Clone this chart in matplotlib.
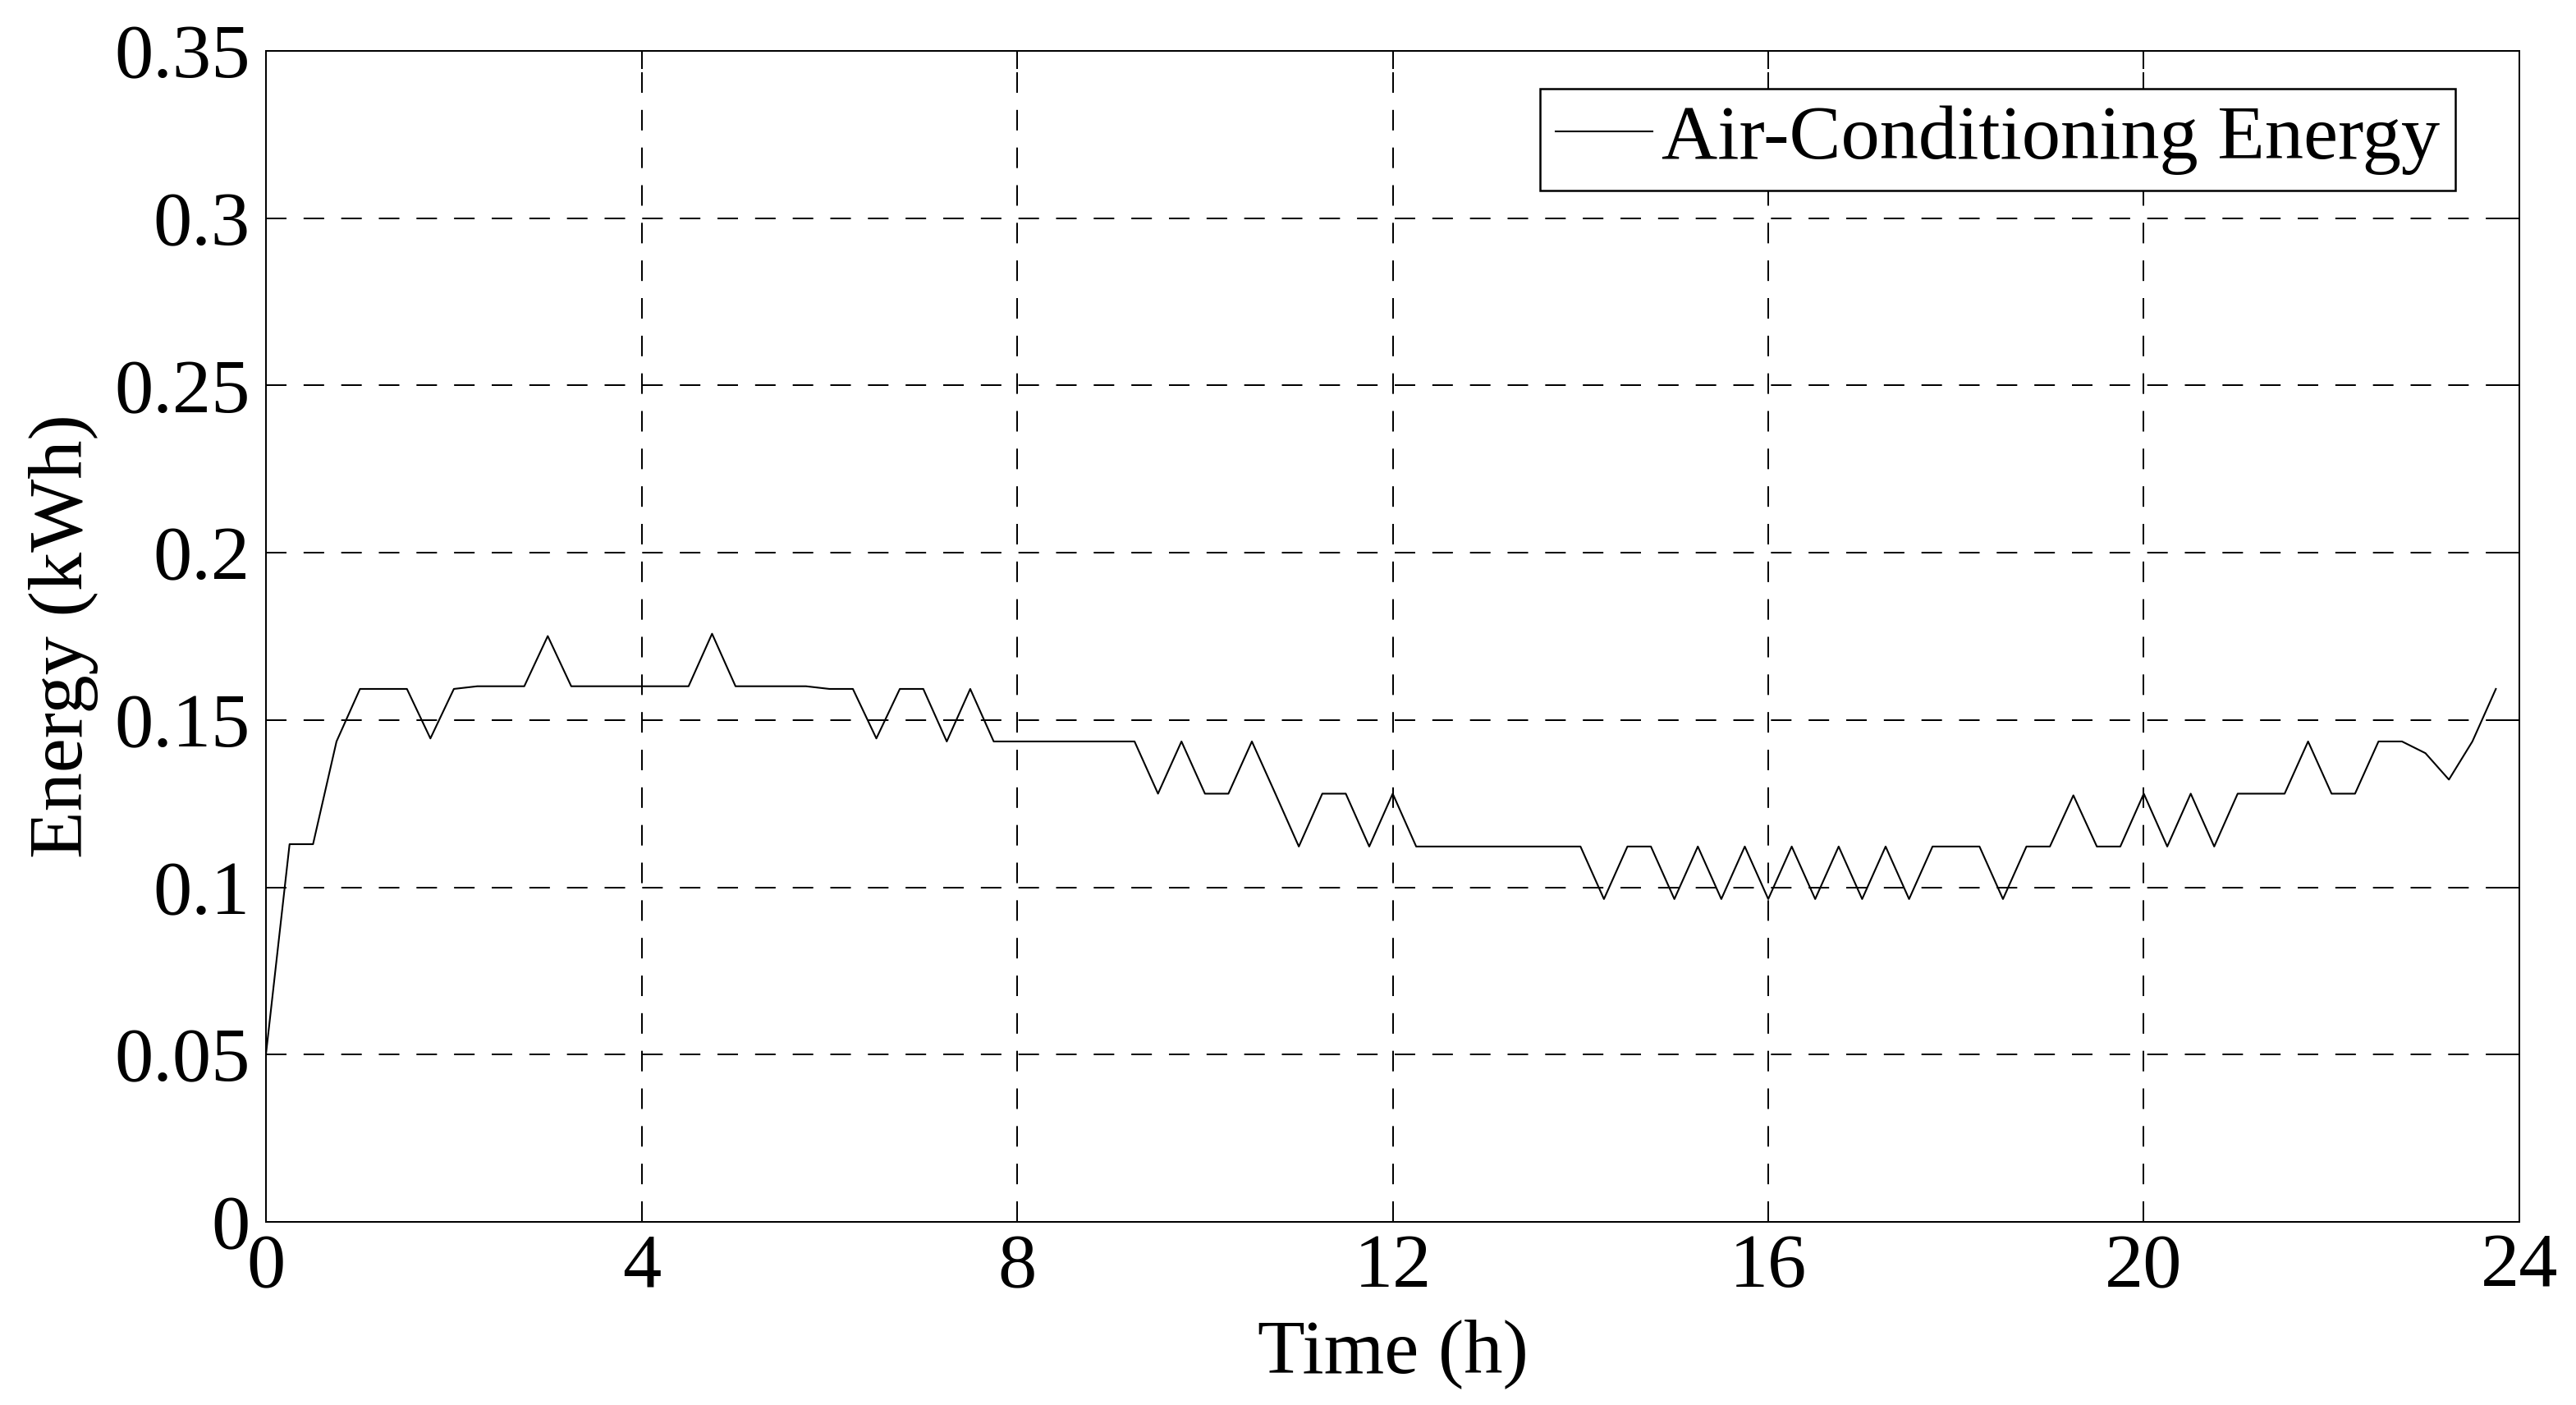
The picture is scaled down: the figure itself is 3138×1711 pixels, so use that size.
import matplotlib
matplotlib.use("Agg")
import matplotlib.pyplot as plt
from matplotlib.ticker import FuncFormatter

# 15-minute air-conditioning energy over one day
hours = [i * 0.25 for i in range(96)]
energy = [
    0.0505, 0.1129, 0.1129, 0.1436, 0.1593, 0.1593, 0.1593, 0.1445,
    0.1593, 0.1601, 0.1601, 0.1601, 0.1751, 0.1601, 0.1601, 0.1601,
    0.1601, 0.1601, 0.1601, 0.1758, 0.1601, 0.1601, 0.1601, 0.1601,
    0.1593, 0.1593, 0.1445, 0.1593, 0.1593, 0.1436, 0.1593, 0.1436,
    0.1436, 0.1436, 0.1436, 0.1436, 0.1436, 0.1436, 0.1280, 0.1436,
    0.1280, 0.1280, 0.1436, 0.1280, 0.1122, 0.1280, 0.1280, 0.1122,
    0.1280, 0.1122, 0.1122, 0.1122, 0.1122, 0.1122, 0.1122, 0.1122,
    0.1122, 0.0965, 0.1122, 0.1122, 0.0965, 0.1122, 0.0965, 0.1122,
    0.0965, 0.1122, 0.0965, 0.1122, 0.0965, 0.1122, 0.0965, 0.1122,
    0.1122, 0.1122, 0.0965, 0.1122, 0.1122, 0.1275, 0.1122, 0.1122,
    0.1280, 0.1122, 0.1280, 0.1122, 0.1280, 0.1280, 0.1280, 0.1436,
    0.1280, 0.1280, 0.1436, 0.1436, 0.1401, 0.1322, 0.1436, 0.1593,
]
x_ticks = [0, 4, 8, 12, 16, 20, 24]
y_ticks = [0, 0.05, 0.1, 0.15, 0.2, 0.25, 0.3, 0.35]

plt.rcParams['font.family'] = ['Liberation Serif', 'DejaVu Serif']
plt.rcParams['lines.scale_dashes'] = False
FS = 34

fig = plt.figure(figsize=(15.69, 8.555), dpi=200, facecolor='white')
ax = fig.add_axes([0.1033, 0.1303, 0.978 - 0.1033, 0.9638 - 0.1303])

ax.plot(hours, energy, color='black', lw=0.75, label='Air-Conditioning Energy', zorder=3)

ax.set_xlim(0, 24)
ax.set_ylim(0, 0.35)
ax.set_xticks(x_ticks)
ax.set_yticks(y_ticks)
ax.yaxis.set_major_formatter(FuncFormatter(lambda v, p: '{:g}'.format(v)))
ax.xaxis.set_major_formatter(FuncFormatter(lambda v, p: '{:g}'.format(v)))

ax.grid(True, color='black', lw=0.72, linestyle=(0, (9, 7.5)), zorder=1)
ax.tick_params(direction='in', length=8, width=0.72, top=True, right=True,
               labelsize=FS, colors='black')
ax.tick_params(axis='x', pad=5)
ax.tick_params(axis='y', pad=7)
for s in ax.spines.values():
    s.set_linewidth(0.72)
    s.set_color('black')

ax.set_xlabel('Time (h)', fontsize=FS)
ax.set_ylabel('Energy (kWh)', fontsize=FS)
ax.xaxis.set_label_coords(0.5, -0.0825)
ax.yaxis.set_label_coords(-0.0743, 0.5)

leg = ax.legend(loc='upper right', bbox_to_anchor=(0.9716, 0.9677), borderaxespad=0,
                fontsize=FS, handlelength=1.25, handletextpad=0.12, borderpad=0.2,
                fancybox=False, framealpha=1, edgecolor='black')
leg.get_frame().set_linewidth(0.9)

fig.savefig('out.png', dpi=200, facecolor='white')
